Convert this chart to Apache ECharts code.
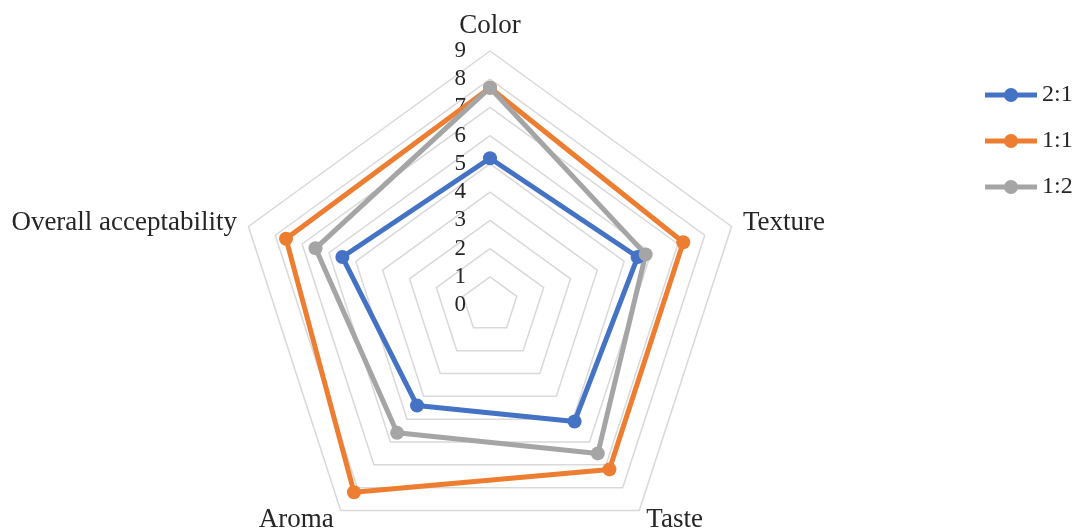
<!DOCTYPE html>
<html>
<head>
<meta charset="utf-8">
<script src="https://cdn.jsdelivr.net/npm/echarts@6/dist/echarts.min.js"></script>
<style>
html,body{margin:0;padding:0;background:#fff;}
#chart{width:1078px;height:531px;}
</style>
</head>
<body>
<div id="chart"></div>
<script>
// Indicators in ECharts drawing order (counter-clockwise from top)
const categories = ['Color', 'Overall acceptability', 'Aroma', 'Taste', 'Texture'];
const seriesNames = ['2:1', '1:1', '1:2'];
const values21 = [5.2, 5.5, 4.4, 5.1, 5.5];
const values11 = [7.7, 7.6, 8.2, 7.2, 7.2];
const values12 = [7.7, 6.5, 5.6, 6.5, 5.8];
const axisMin = 0;
const axisMax = 9;
const colors = ['#4472C4', '#ED7D31', '#A5A5A5'];

const FONT = '"Liberation Serif", "Times New Roman", serif';
const legendIcon = 'path://M0,4.6H52V9.4H0Z M19,7A7,7 0 1,1 33,7A7,7 0 1,1 19,7Z';

const chart = echarts.init(document.getElementById('chart'), null, {renderer: 'canvas'});
const allValues = [values21, values11, values12];

chart.setOption({
  animation: false,
  backgroundColor: '#ffffff',
  color: colors,
  legend: {
    orient: 'vertical',
    left: 980,
    top: 78,
    itemWidth: 52,
    itemHeight: 14,
    itemGap: 22,
    data: seriesNames.map(n => ({name: n, icon: legendIcon})),
    textStyle: {fontFamily: FONT, fontSize: 24, color: '#262626', lineHeight: 24}
  },
  radar: {
    center: [490, 305],
    radius: 254,
    startAngle: 90,
    shape: 'polygon',
    splitNumber: 9,
    nameGap: 12,
    axisName: {fontFamily: FONT, fontSize: 27, color: '#262626'},
    axisLine: {show: false},
    axisTick: {show: false},
    axisLabel: {show: false},
    splitArea: {show: false},
    splitLine: {lineStyle: {color: '#d9d9d9', width: 1.5}},
    indicator: categories.map((c, i) => {
      const ind = {name: c, min: axisMin, max: axisMax};
      if (i === 0) {
        ind.axisLabel = {show: true, fontFamily: FONT, fontSize: 23, color: '#262626', margin: 24};
      }
      return ind;
    })
  },
  series: [{
    type: 'radar',
    symbol: 'circle',
    symbolSize: 14,
    lineStyle: {width: 5},
    data: seriesNames.map((n, i) => ({
      name: n,
      value: allValues[i],
      itemStyle: {color: colors[i]},
      lineStyle: {color: colors[i], width: 5}
    }))
  }]
});
</script>
</body>
</html>
